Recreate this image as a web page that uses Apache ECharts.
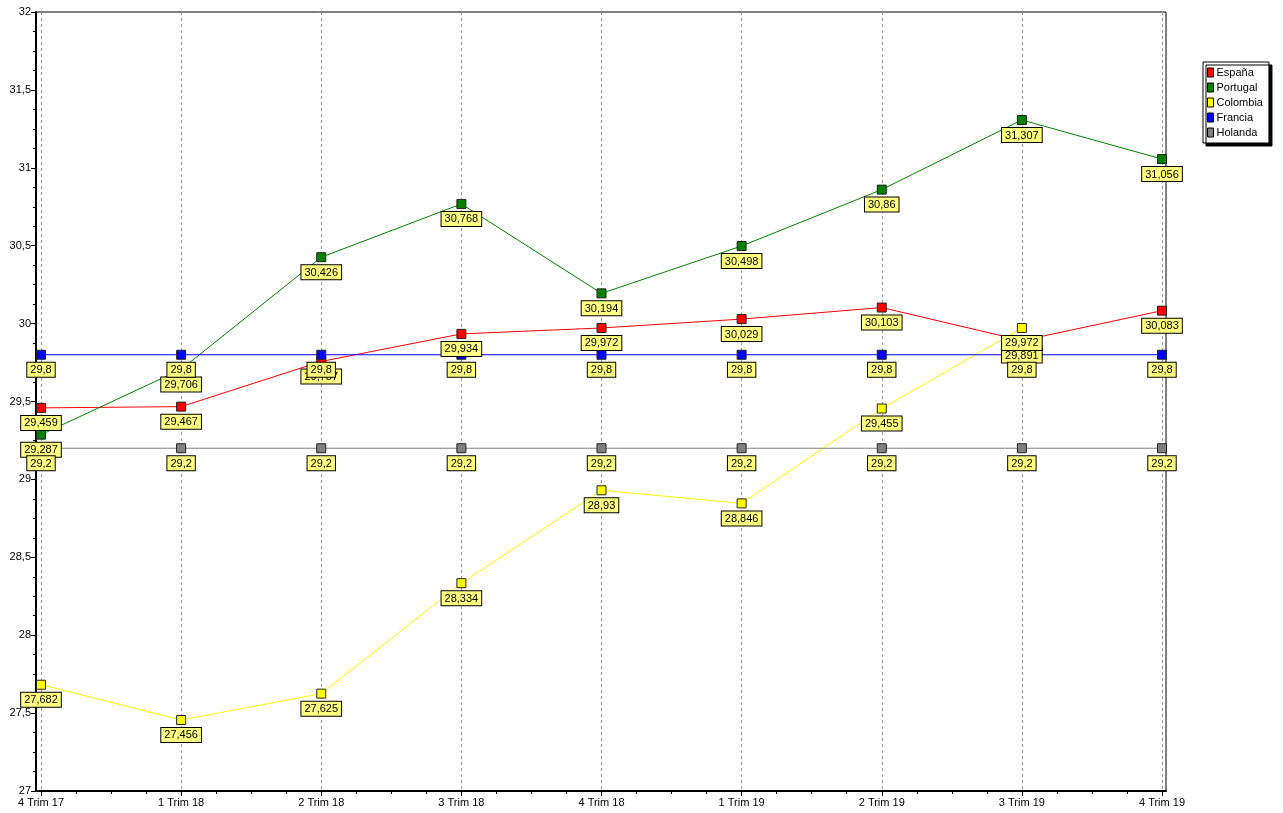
<!DOCTYPE html>
<html><head><meta charset="utf-8">
<script src="https://cdn.jsdelivr.net/npm/echarts@6/dist/echarts.min.js"></script>
<style>html,body{margin:0;padding:0;background:#fff}#c{width:1283px;height:813px}</style>
</head><body><div id="c"></div>
<script>
const categories = ['4 Trim 17','1 Trim 18','2 Trim 18','3 Trim 18','4 Trim 18','1 Trim 19','2 Trim 19','3 Trim 19','4 Trim 19'];
const espana   = [29.459, 29.467, 29.757, 29.934, 29.972, 30.029, 30.103, 29.891, 30.083];
const portugal = [29.287, 29.706, 30.426, 30.768, 30.194, 30.498, 30.86, 31.307, 31.056];
const colombia = [27.682, 27.456, 27.625, 28.334, 28.93, 28.846, 29.455, 29.972, null];
const francia  = [29.8, 29.8, 29.8, 29.8, 29.8, 29.8, 29.8, 29.8, 29.8];
const holanda  = [29.2, 29.2, 29.2, 29.2, 29.2, 29.2, 29.2, 29.2, 29.2];
const seriesNames = ['España','Portugal','Colombia','Francia','Holanda'];
const seriesData = [espana, portugal, colombia, francia, holanda];
const colors = ['#ff0000','#008000','#ffff00','#0000ff','#808080'];
const yMin = 27, yMax = 32, yInterval = 0.5;

const fmt = v => String(v).replace('.', ',');
const font = 'Liberation Sans, Arial, sans-serif';

const chart = echarts.init(document.getElementById('c'), null, {renderer:'canvas'});
const series = seriesNames.map((name, k) => ({
  name, type:'line', xAxisIndex:1, yAxisIndex:1,
  data: seriesData[k].map((v,i) => [i, v]),
  connectNulls:false,
  symbol:'rect', symbolSize:9, showAllSymbol:true,
  color: colors[k],
  lineStyle:{color: colors[k], width:1},
  itemStyle:{color: colors[k], borderColor:'#222', borderWidth:1},
  emphasis:{disabled:true},
  animation:false,
  label:{
    show:true, position:'bottom', distance:3,
    formatter: p => fmt(p.value[1]),
    backgroundColor:'#ffff80', borderColor:'#000', borderWidth:1,
    padding:[2,3,1,3], color:'#000', fontSize:11, fontFamily:font
  }
}));

chart.setOption({
  animation:false,
  legend:{
    orient:'vertical', left:1203, top:62,
    data: seriesNames,
    icon:'rect', itemWidth:6, itemHeight:9, itemGap:2,
    backgroundColor:'#fff', borderColor:'#000', borderWidth:1,
    shadowColor:'#000', shadowOffsetX:3, shadowOffsetY:3, shadowBlur:0,
    padding:[4,6,4,4], borderRadius:0,
    itemStyle:{borderColor:'#000', borderWidth:1},
    textStyle:{fontSize:11, fontFamily:font, color:'#000', padding:[0,0,0,-2], lineHeight:13},
    selectedMode:false
  },
  grid:[
    {left:36, right:117, top:12, bottom:22, show:true, borderColor:'#000', borderWidth:1, backgroundColor:'transparent'},
    {left:41, right:121, top:12, bottom:22}
  ],
  xAxis:[
    {gridIndex:0, type:'value', min:0, max:1, show:true,
      axisLine:{show:true, lineStyle:{color:'#000', width:2}},
      axisTick:{show:false}, axisLabel:{show:false}, splitLine:{show:false}},
    {gridIndex:1, type:'value', min:0, max:categories.length-1, interval:1,
      axisLine:{show:false},
      axisTick:{show:true, length:5, lineStyle:{color:'#000'}},
      minorTick:{show:true, splitNumber:4, length:3, lineStyle:{color:'#000'}},
      splitLine:{show:true, lineStyle:{color:'#999', type:[3,3], width:1}},
      axisLabel:{formatter: v => categories[v] || '', fontSize:11, fontFamily:font, color:'#000', margin:6}}
  ],
  yAxis:[
    {gridIndex:0, type:'value', min:yMin, max:yMax, interval:yInterval,
      axisLine:{show:true, lineStyle:{color:'#000', width:2}},
      axisTick:{show:true, length:5, lineStyle:{color:'#000'}},
      minorTick:{show:true, splitNumber:4, length:3, lineStyle:{color:'#000'}},
      splitLine:{show:false},
      axisLabel:{formatter: v => fmt(v), fontSize:11, fontFamily:font, color:'#000', margin:5}},
    {gridIndex:1, type:'value', min:yMin, max:yMax, show:false, splitLine:{show:false}}
  ],
  series
});
</script></body></html>
